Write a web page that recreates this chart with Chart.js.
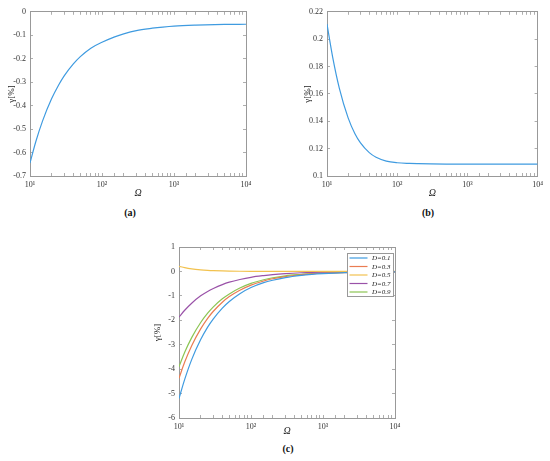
<!DOCTYPE html>
<html>
<head>
<meta charset="utf-8">
<script src="https://cdn.jsdelivr.net/npm/chart.js@4.4.1/dist/chart.umd.min.js"></script>
<style>
  html, body { margin: 0; padding: 0; background: #fff; }
  body { position: relative; width: 550px; height: 461px; overflow: hidden; }
  canvas { position: absolute; }
  .cap { position: absolute; font-family: 'Liberation Serif', serif; font-weight: bold;
         font-size: 10px; color: #111; transform: translate(-50%, -50%); }
</style>
</head>
<body>
<canvas id="chartA" width="275" height="203" style="left:0;top:0"></canvas>
<canvas id="chartB" width="275" height="203" style="left:275px;top:0"></canvas>
<canvas id="chartC" width="280" height="206" style="left:140px;top:235px"></canvas>
<div class="cap" style="left:130px;top:212px">(a)</div>
<div class="cap" style="left:428px;top:212px">(b)</div>
<div class="cap" style="left:288px;top:448px">(c)</div>

<script>
// sample points along Ω
const omega = [10, 12, 15, 20, 25, 30, 40, 50, 70, 100, 150, 200, 300, 500, 700, 1000, 2000, 5000, 10000];

// panel (a)
const gammaA = [-0.645, -0.555, -0.464, -0.37, -0.312, -0.272, -0.222, -0.191, -0.155, -0.13,
                -0.107, -0.094, -0.08, -0.07, -0.065, -0.061, -0.057, -0.054, -0.053];

// panel (b)
const gammaB = [0.211, 0.1873, 0.1641, 0.1425, 0.1309, 0.1242, 0.1171, 0.1137, 0.1109, 0.1097,
                0.1092, 0.109, 0.1088, 0.1087, 0.1087, 0.1087, 0.1087, 0.1087, 0.1087];

// panel (c), one series per D
const dLabels = ['D=0.1', 'D=0.3', 'D=0.5', 'D=0.7', 'D=0.9'];
const gammaD01 = [-5.2, -4.42, -3.61, -2.79, -2.28, -1.94, -1.5, -1.23, -0.91, -0.66,
                  -0.46, -0.36, -0.25, -0.16, -0.12, -0.09, -0.05, -0.03, -0.02];
const gammaD03 = [-4.37, -3.71, -3.04, -2.35, -1.92, -1.63, -1.26, -1.03, -0.77, -0.56,
                  -0.39, -0.3, -0.21, -0.14, -0.1, -0.075, -0.045, -0.025, -0.018];
const gammaD05 = [0.21, 0.154, 0.105, 0.065, 0.044, 0.032, 0.02, 0.014, 0.008, 0.004,
                  0.002, 0.001, 0, 0, 0, 0, 0, 0, 0];
const gammaD07 = [-1.87, -1.59, -1.3, -1.0, -0.82, -0.7, -0.54, -0.44, -0.33, -0.24,
                  -0.17, -0.13, -0.09, -0.055, -0.04, -0.03, -0.016, -0.007, -0.004];
const gammaD09 = [-3.9, -3.31, -2.71, -2.09, -1.71, -1.45, -1.12, -0.92, -0.68, -0.49,
                  -0.34, -0.26, -0.18, -0.12, -0.085, -0.062, -0.035, -0.018, -0.01];

// axis ticks
const xDecades = [10, 100, 1000, 10000];
const xTickLabels = ['10\u00b9', '10\u00b2', '10\u00b3', '10\u2074'];
const yRangeA = [-0.7, 0, 0.1];
const yRangeB = [0.1, 0.22, 0.02];
const yRangeC = [-6, 1, 1];

const lineColors = ['#3f9be0', '#ea7c52', '#f2c24f', '#9a52a8', '#8cc553'];
const axisColor = '#999999';
const FONT = "'Liberation Serif', serif";

function pts(ys) {
  return omega.map(function(x, i) { return { x: x, y: ys[i] }; });
}

// small legend box drawn inside the plot area (top right)
const boxLegend = {
  id: 'boxLegend',
  afterDatasetsDraw(chart, args, opts) {
    if (!opts.show) return;
    const ctx = chart.ctx, area = chart.chartArea;
    const sets = chart.data.datasets;
    const w = 46, rowH = 8.5, h = sets.length * rowH + 0.5;
    const x0 = Math.round(area.right - w - 2) + 0.5, y0 = Math.round(area.top + 6) + 0.5;
    ctx.save();
    ctx.fillStyle = '#fff';
    ctx.fillRect(x0, y0, w, h);
    ctx.strokeStyle = axisColor;
    ctx.lineWidth = 1;
    ctx.strokeRect(x0, y0, w, h);
    ctx.font = 'italic 7px ' + FONT;
    ctx.textAlign = 'right';
    ctx.textBaseline = 'middle';
    sets.forEach(function(ds, i) {
      const y = y0 + 4.5 + i * rowH;
      ctx.strokeStyle = ds.borderColor;
      ctx.lineWidth = 1.2;
      ctx.beginPath();
      ctx.moveTo(x0 + 2, y);
      ctx.lineTo(x0 + 20, y);
      ctx.stroke();
      ctx.fillStyle = '#222';
      ctx.fillText(ds.label, x0 + w - 3, y + 0.5);
    });
    ctx.restore();
  }
};

function makePanel(id, W, H, area, datasets, yRange, yTitlePad, legend) {
  const tickFont = { family: FONT, size: 8 };
  const fmtY = function(v) { return String(parseFloat(v.toFixed(2))); };
  const logTicks = function(v) {
    const k = xDecades.indexOf(Math.round(v));
    return (k >= 0 && Math.abs(v - xDecades[k]) < 1e-6) ? xTickLabels[k] : '';
  };
  const gridIn = { drawOnChartArea: false, drawTicks: true, tickLength: -3, color: axisColor, lineWidth: 0.8 };
  const border = { display: true, color: axisColor, width: 1 };

  return new Chart(document.getElementById(id), {
    type: 'line',
    data: { datasets: datasets },
    plugins: [boxLegend],
    options: {
      responsive: false,
      animation: false,
      layout: { padding: { left: 0, top: area.top, right: W - area.right, bottom: 0 } },
      elements: { point: { radius: 0 }, line: { borderWidth: 1.2, cubicInterpolationMode: 'monotone' } },
      plugins: { legend: { display: false }, tooltip: { enabled: false }, boxLegend: { show: legend } },
      scales: {
        x: {
          type: 'logarithmic', position: 'bottom', min: 10, max: 10000,
          grid: gridIn, border: border,
          ticks: { autoSkip: false, maxRotation: 0, padding: 7, color: '#333', font: tickFont, callback: logTicks },
          title: { display: true, text: '\u03a9', color: '#222', padding: { top: 0, bottom: 4 },
                   font: { family: FONT, size: 10, style: 'italic' } },
          afterFit: function(s) { s.height = H - area.bottom; }
        },
        xTop: {
          type: 'logarithmic', position: 'top', min: 10, max: 10000,
          grid: gridIn, border: border,
          ticks: { display: false, autoSkip: false },
          afterFit: function(s) { s.height = 0; }
        },
        y: {
          type: 'linear', position: 'left', min: yRange[0], max: yRange[1],
          grid: gridIn, border: border,
          ticks: { stepSize: yRange[2], padding: 7, color: '#333', font: tickFont, callback: fmtY },
          title: { display: true, text: '\u03b3[%]', color: '#222', padding: { top: yTitlePad, bottom: 0 },
                   font: { family: FONT, size: 9 } },
          afterFit: function(s) { s.width = area.left; }
        },
        yRight: {
          type: 'linear', position: 'right', min: yRange[0], max: yRange[1],
          grid: gridIn, border: border,
          ticks: { display: false, stepSize: yRange[2] },
          afterFit: function(s) { s.width = 0; }
        }
      }
    }
  });
}

function series(label, ys, color) {
  return { label: label, data: pts(ys), borderColor: color, backgroundColor: color, fill: false };
}

makePanel('chartA', 275, 203, { left: 30, right: 246, top: 6, bottom: 176 },
  [series('a', gammaA, lineColors[0])], yRangeA, 6, false);

makePanel('chartB', 275, 203, { left: 52, right: 268, top: 6, bottom: 176 },
  [series('b', gammaB, lineColors[0])], yRangeB, 27, false);

const seriesC = [gammaD01, gammaD03, gammaD05, gammaD07, gammaD09];
makePanel('chartC', 280, 206, { left: 39, right: 255, top: 12, bottom: 183 },
  seriesC.map(function(ys, i) { return series(dLabels[i], ys, lineColors[i]); }), yRangeC, 12, true);
</script>
</body>
</html>
